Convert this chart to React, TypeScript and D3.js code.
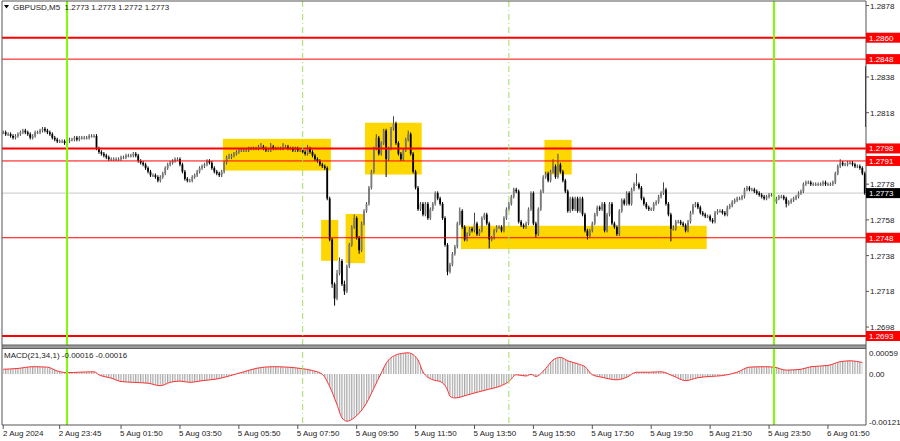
import React from "react";
import * as d3 from "d3";

// ---------- DATA ----------
const PRICE_BASE = 1.27; // prices stored as points (pips) above 1.2700
const PIP = 0.0001;
const FIRST_BAR = -26; // bar index of first candle (0 = 5 Aug 00:00, M5 bars)
const firstOpen = 107;

const closes = [
  107,106,106,105,104,105,106,107,108,107,106,104,105,107,107,108,109,108,107,106,104,103,102,102,102,101,
  102,103,103,104,103,104,104,104,104,105,105,105,
  98,96,95,94,93,92,92,92,92,92,93,93,94,94,94,95,94,
  91,90,89,87,85,83,83,82,80,82,84,87,89,90,91,92,92,
  89,85,81,80,80,82,83,85,87,88,89,91,90,87,85,84,83,
  85,90,93,93,94,95,96,97,97,97,97,98,98,98,98,99,99,98,97,97,
  99,98,98,98,98,99,99,98,98,97,98,97,97,96,95,98,96,94,92,91,89,88,87,
  70,47,22,14,28,35,22,18,32,44,54,59,48,41,56,63,67,76,85,98,104,
  95,101,108,92,98,109,112,101,95,92,97,103,106,95,85,76,64,67,61,67,59,64,67,73,70,67,
  59,44,29,33,39,43,56,63,54,47,50,53,52,56,50,52,59,61,56,47,48,52,54,54,52,59,64,67,71,75,74,
  57,55,54,56,64,73,56,50,64,74,82,84,80,85,88,82,89,85,80,74,63,70,64,70,63,70,61,52,49,
  52,56,61,65,64,67,52,61,67,56,54,50,63,69,67,73,67,75,78,78,76,70,67,65,64,64,67,68,71,73,75,
  67,61,53,53,57,57,56,55,52,57,62,66,67,65,62,61,60,60,58,57,62,63,63,62,61,65,66,68,69,70,70,71,
  75,76,75,75,74,73,72,71,70,71,72,72,68,70,71,71,70,67,68,69,70,71,73,74,78,79,79,78,78,78,78,78,79,78,78,78,79,
  84,88,90,89,89,90,90,89,88,88,87,84,73,
];

const highs = [
  108,108,107,107,106,106,107,108,109,109,108,107,106,108,108,109,110,110,109,108,107,105,104,103,103,103,
  103,104,104,105,105,105,105,105,105,106,106,106,
  106,99,97,96,95,94,93,93,93,93,94,94,95,95,95,96,96,
  95,92,91,90,88,86,84,84,83,83,85,88,90,91,92,93,93,
  93,90,86,82,81,83,84,86,88,89,90,92,92,91,88,86,85,
  86,91,94,95,95,96,97,98,98,98,98,99,99,99,99,100,101,100,99,98,
  101,100,99,99,99,101,100,100,99,99,99,99,98,98,97,100,99,97,95,93,92,90,89,
  88,71,48,23,30,37,36,24,33,45,55,61,60,49,57,64,68,77,86,99,106,
  105,102,109,109,99,110,116,113,102,96,98,104,108,107,96,86,77,68,68,68,68,65,68,74,74,71,
  68,60,45,34,40,44,57,65,64,55,51,54,54,62,57,53,60,62,62,57,49,53,55,55,55,60,65,68,72,76,76,
  75,58,56,57,65,74,74,57,65,75,83,85,85,86,92,89,95,90,86,81,75,71,71,71,71,71,71,62,53,
  53,57,62,66,66,68,68,62,68,68,57,55,64,70,70,74,74,76,79,84,79,77,71,68,66,65,68,69,72,74,79,
  76,68,62,55,58,58,58,57,56,58,63,67,68,68,66,63,62,61,61,59,63,64,64,64,63,66,67,69,70,71,71,72,
  76,77,77,76,76,75,74,73,72,72,73,73,73,71,72,72,72,71,69,70,71,72,74,75,79,80,80,80,79,79,79,79,80,80,79,79,80,
  85,89,92,91,90,91,91,91,90,89,89,88,85,
];

const lows = [
  106,105,105,104,103,103,104,105,106,106,105,103,103,104,106,106,107,107,106,105,103,102,101,101,101,100,
  100,101,102,102,102,102,103,103,103,103,104,104,
  97,95,94,93,92,91,91,91,91,91,91,92,92,93,93,93,93,
  90,89,88,86,84,82,82,81,79,79,81,83,86,88,89,90,91,
  88,84,80,79,79,79,81,82,84,86,87,88,89,86,84,83,82,
  82,84,89,92,92,93,94,95,96,96,96,96,97,97,97,97,98,97,96,96,
  96,97,97,97,97,97,98,97,97,96,96,96,96,95,94,94,95,93,91,90,88,87,86,
  69,46,20,10,13,27,21,16,17,31,43,53,47,39,40,55,62,66,75,84,97,
  94,94,100,82,91,97,108,100,94,91,91,96,102,94,84,75,63,63,60,60,58,58,63,66,69,66,
  58,43,27,28,32,38,42,55,53,46,46,49,51,51,49,49,51,58,55,42,46,47,51,53,51,51,58,63,66,70,73,
  56,54,53,53,55,63,55,48,49,63,73,81,79,79,84,81,81,84,79,73,62,62,63,63,62,62,60,51,47,
  48,51,55,60,63,63,51,51,60,55,53,49,49,62,66,66,66,66,74,77,75,69,66,64,63,63,63,66,67,70,72,
  66,60,46,52,52,56,55,54,51,51,56,61,65,64,61,60,59,59,57,56,56,61,62,61,60,60,64,65,67,68,69,69,
  70,74,74,74,73,72,71,70,69,69,70,71,67,67,69,70,69,65,66,67,68,69,70,72,73,77,78,77,77,77,77,77,77,77,77,77,77,
  78,83,87,88,88,88,89,88,87,87,86,83,72,
];

// isolated tick spike at the right edge (points above 1.2700)
const lastSpike = [144, 110];

// MACD(21,34,1) samples: bar index and value in 1e-5
const macdBars = [
  -26,-20,-14,-8,-4,0,5,11,13,18,22,27,33,38,42,46,50,55,61,66,72,77,84,90,95,100,104,107,110,112,
  114,117,119,122,125,128,130,134,137,139,143,145,149,152,155,156,158,163,168,172,176,180,183,187,189,191,195,198,201,204,
  208,211,214,218,224,228,232,237,242,247,252,257,262,267,273,278,284,288,293,299,303,310,315,319,324,
];
const macdValues = [
  11,13,17,16,7,3,4,5,-2,-10,-18,-20,-22,-28,-20,-17,-20,-16,-12,-5,5,13,17,16,13,8,-1,-30,-73,-104,
  -112,-104,-93,-69,-34,2,25,45,49,50,33,5,-14,-18,-38,-53,-57,-50,-42,-36,-30,-18,-2,-5,-1,-6,13,33,39,31,
  24,17,-2,-8,-14,-8,4,4,5,-5,-16,-9,-6,-4,4,16,17,16,9,11,17,20,29,31,27,
];
const macdMax = 0.00059;
const macdMin = -0.00121;

// Horizontal levels
const levels = [1.286, 1.2848, 1.2798, 1.2791, 1.2748, 1.2693];
const levelLabels = ["1.2860", "1.2848", "1.2798", "1.2791", "1.2748", "1.2693"];
const thickLevels = [1.286, 1.2798, 1.2693];
const currentPrice = 1.2773;

// Rectangles: [startBar, endBar, topPrice, bottomPrice]
const boxStart = [63.5, 103.5, 113.5, 121.4, 194.5, 160.5];
const boxEnd = [107.5, 110.5, 121.4, 144.5, 205.6, 260.6];
const boxTop = [1.28034, 1.2758, 1.27613, 1.28124, 1.28028, 1.27547];
const boxBottom = [1.27856, 1.27351, 1.27338, 1.27834, 1.27834, 1.27417];

// Vertical lines (bar index)
const solidVLines = [0, 288];
const dashedVLines = [96, 180];

// Axes (1.2858 and 1.2798 ticks are hidden under the level labels)
const priceTicks = [1.2878, 1.2838, 1.2818, 1.2778, 1.2758, 1.2738, 1.2718, 1.2698];
const timeLabelBars = [-26, -3, 22, 46, 70, 94, 118, 142, 166, 190, 214, 238, 262, 286, 310];
const timeLabels = [
  "2 Aug 2024", "2 Aug 23:45", "5 Aug 01:50", "5 Aug 03:50", "5 Aug 05:50", "5 Aug 07:50",
  "5 Aug 09:50", "5 Aug 11:50", "5 Aug 13:50", "5 Aug 15:50", "5 Aug 17:50", "5 Aug 19:50",
  "5 Aug 21:50", "5 Aug 23:50", "6 Aug 01:50",
];
const macdTicks = [0.00059, 0.0, -0.00121];
const macdTickLabels = ["0.00059", "0.00", "-0.00121"];

const headerText = "GBPUSD,M5  1.2773 1.2773 1.2772 1.2773";
const macdTitle = "MACD(21,34,1) -0.00016 -0.00016";

// ---------- LAYOUT / STYLE ----------
const W = 900, H = 441;
const L = 2, R = 866;
const MAIN_TOP = 1, MAIN_BOTTOM = 345;
const MACD_TOP = 349, MACD_BOTTOM = 425;
const FONT = "'Liberation Sans', Arial, sans-serif";

export default function App() {
  const n = closes.length;
  const x = d3.scaleLinear().domain([FIRST_BAR - 0.5, FIRST_BAR + n - 0.5]).range([L, R]);
  const y = d3.scaleLinear().domain([1.2693, 1.286]).range([336, 37.7]);
  const yM = d3.scaleLinear().domain([macdMin, macdMax]).range([MACD_BOTTOM, MACD_TOP]);
  const step = x(1) - x(0);
  const price = (p: number) => PRICE_BASE + p * PIP;

  const candles = closes.map((c, i) => {
    const o = i === 0 ? firstOpen : closes[i - 1];
    return { bar: FIRST_BAR + i, o: price(o), c: price(c), h: price(highs[i]), l: price(lows[i]) };
  });

  const macdPts = macdBars.map((b, i) => ({ b, v: macdValues[i] * 0.00001 }));
  const area = d3
    .area<{ b: number; v: number }>()
    .x((d) => x(d.b))
    .y0(yM(0))
    .y1((d) => yM(d.v))
    .curve(d3.curveMonotoneX);
  const line = d3
    .line<{ b: number; v: number }>()
    .x((d) => x(d.b))
    .y((d) => yM(d.v))
    .curve(d3.curveMonotoneX);

  const bodyW = 1.8;

  return (
    <svg
      width={W}
      height={H}
      style={{ position: "absolute", left: 0, top: 0, background: "#fff" }}
      fontFamily={FONT}
    >
      <defs>
        <clipPath id="mainClip">
          <rect x={L} y={MAIN_TOP} width={R - L} height={MAIN_BOTTOM - MAIN_TOP} />
        </clipPath>
        <clipPath id="macdClip">
          <rect x={L} y={MACD_TOP} width={R - L} height={MACD_BOTTOM - MACD_TOP} />
        </clipPath>
        <pattern
          id="histPat"
          patternUnits="userSpaceOnUse"
          width={step}
          height={H}
          x={x(FIRST_BAR) - 0.6}
          y={0}
        >
          <rect x={0} y={0} width={1.2} height={H} fill="#a8a8a8" />
        </pattern>
      </defs>
      <rect x={0} y={0} width={W} height={H} fill="#fff" />

      <g clipPath="url(#mainClip)">
        {boxStart.map((s, i) => (
          <rect
            key={"b" + i}
            x={x(s)}
            y={y(boxTop[i])}
            width={x(boxEnd[i]) - x(s)}
            height={y(boxBottom[i]) - y(boxTop[i])}
            fill="#FFD700"
          />
        ))}
        <line x1={L} x2={R} y1={y(currentPrice)} y2={y(currentPrice)} stroke="#c8c8c8" strokeWidth={1} />
        {candles.map((d) => {
          const cx = x(d.bar);
          const bull = d.c >= d.o;
          const top = y(Math.max(d.o, d.c));
          const bot = y(Math.min(d.o, d.c));
          const col = bull ? "#7a7a7a" : "#000";
          return (
            <g key={"c" + d.bar}>
              <line x1={cx} x2={cx} y1={y(d.h)} y2={y(d.l)} stroke={bull ? "#444" : "#000"} strokeWidth={1} />
              <rect x={cx - bodyW / 2} y={top} width={bodyW} height={Math.max(1, bot - top)} fill={col} />
            </g>
          );
        })}
        <line
          x1={x(FIRST_BAR + n - 1) + 1}
          x2={x(FIRST_BAR + n - 1) + 1}
          y1={y(price(lastSpike[0]))}
          y2={y(price(lastSpike[1]))}
          stroke="#000"
          strokeWidth={1.2}
        />
        {levels.map((lv, i) => (
          <line
            key={"l" + i}
            x1={L}
            x2={R}
            y1={y(lv)}
            y2={y(lv)}
            stroke="#ff0000"
            strokeWidth={thickLevels.includes(lv) ? 2 : 1}
          />
        ))}
      </g>

      <g clipPath="url(#macdClip)">
        <path d={area(macdPts) || ""} fill="url(#histPat)" />
        <path d={line(macdPts) || ""} fill="none" stroke="#ff3030" strokeWidth={1} />
      </g>

      {solidVLines.map((b) => (
        <line key={"sv" + b} x1={x(b)} x2={x(b)} y1={MAIN_TOP} y2={MACD_BOTTOM} stroke="#7CFC00" strokeWidth={2} />
      ))}
      {dashedVLines.map((b) => (
        <line
          key={"dv" + b}
          x1={x(b)}
          x2={x(b)}
          y1={MAIN_TOP}
          y2={MACD_BOTTOM}
          stroke="#9fe060"
          strokeWidth={1}
          strokeDasharray="6,3,1,3"
        />
      ))}

      <rect x={L} y={MAIN_BOTTOM} width={R - L} height={3.5} fill="#9a9a9a" />
      <line x1={L} x2={R} y1={MAIN_BOTTOM} y2={MAIN_BOTTOM} stroke="#606060" strokeWidth={1} />
      <line x1={L} x2={R} y1={MAIN_BOTTOM + 3.5} y2={MAIN_BOTTOM + 3.5} stroke="#606060" strokeWidth={1} />
      <line x1={L} x2={L} y1={MAIN_TOP} y2={MACD_BOTTOM} stroke="#555" strokeWidth={1} />
      <line x1={R} x2={R} y1={MAIN_TOP} y2={MACD_BOTTOM} stroke="#555" strokeWidth={1} />
      <line x1={L} x2={R} y1={MAIN_TOP} y2={MAIN_TOP} stroke="#555" strokeWidth={1} />
      <line x1={L} x2={R} y1={MACD_BOTTOM} y2={MACD_BOTTOM} stroke="#555" strokeWidth={1} />

      {priceTicks.map((t) => (
        <g key={"pt" + t}>
          <line x1={R} x2={R + 3} y1={y(t)} y2={y(t)} stroke="#555" />
          <text x={R + 4} y={y(t) + 3} fontSize={8} fill="#222">
            {t.toFixed(4)}
          </text>
        </g>
      ))}
      {levels.map((lv, i) => (
        <g key={"ll" + i}>
          <rect x={R} y={y(lv) - 5} width={W - R} height={10} fill="#ff0000" />
          <text x={R + 3} y={y(lv) + 3} fontSize={8} fill="#fff">
            {levelLabels[i]}
          </text>
        </g>
      ))}
      <rect x={R} y={y(currentPrice) - 5} width={W - R} height={10} fill="#000" />
      <text x={R + 3} y={y(currentPrice) + 3} fontSize={8} fill="#fff">
        {currentPrice.toFixed(4)}
      </text>

      {macdTicks.map((t, i) => {
        const ty = Math.min(Math.max(yM(t), MACD_TOP + 4), MACD_BOTTOM - 3);
        return (
          <text key={"mt" + i} x={R + 3} y={ty + 3} fontSize={8} fill="#222">
            {macdTickLabels[i]}
          </text>
        );
      })}

      {timeLabelBars.map((b, i) => (
        <g key={"tl" + i}>
          <line x1={x(b)} x2={x(b)} y1={MACD_BOTTOM} y2={MACD_BOTTOM + 4} stroke="#555" />
          <text x={Math.max(x(b) - 1, 3)} y={436} fontSize={8} fill="#222">
            {timeLabels[i]}
          </text>
        </g>
      ))}

      <path d="M4,5 L9,5 L6.5,8.5 Z" fill="#000" />
      <text x={13} y={10} fontSize={8} fill="#222" style={{ whiteSpace: "pre" }}>
        {headerText}
      </text>
      <text x={4} y={358} fontSize={8} fill="#222">
        {macdTitle}
      </text>
    </svg>
  );
}
